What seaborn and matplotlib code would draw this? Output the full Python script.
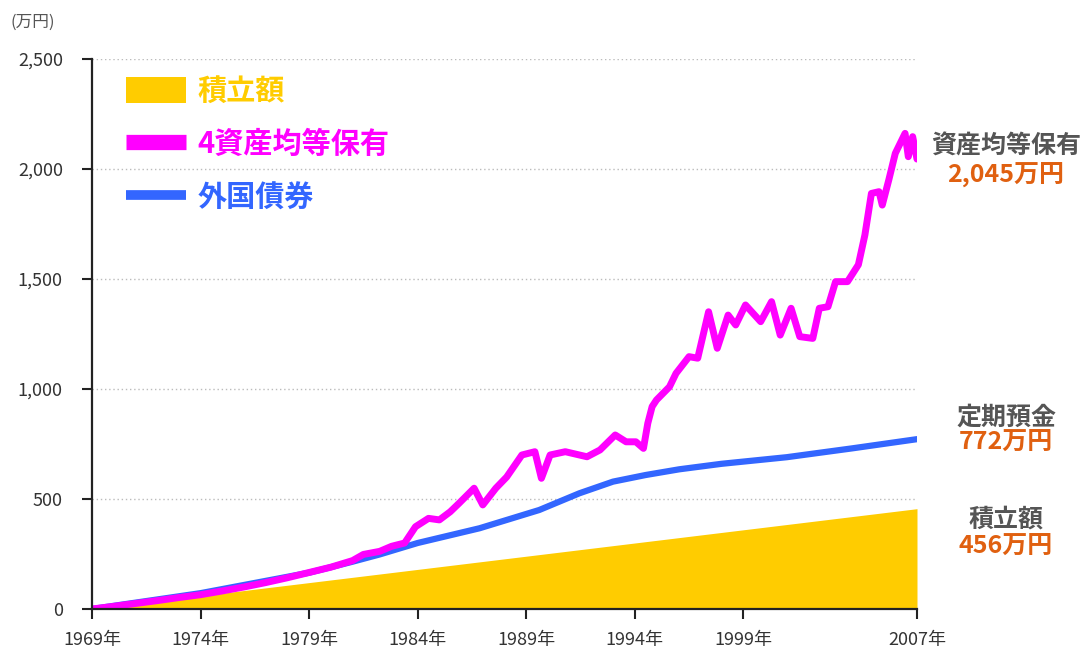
import matplotlib
matplotlib.use("Agg")
import matplotlib.pyplot as plt
from matplotlib.patches import Patch
from matplotlib.lines import Line2D
import seaborn as sns
import pandas as pd

# 4資産均等保有 (万円)
mix_years = [1969.0, 1970.0, 1971.0, 1972.0, 1973.0, 1974.0, 1975.0, 1976.0, 1977.0,
             1978.0, 1979.0, 1980.0, 1981.0, 1981.5, 1982.25, 1982.8, 1983.4, 1983.9,
             1984.5, 1985.0, 1985.5, 1985.9, 1986.6, 1987.0, 1987.6, 1988.1, 1988.8,
             1989.4, 1989.7, 1990.1, 1990.8, 1991.8, 1992.4, 1993.1, 1993.6, 1994.05,
             1994.4, 1994.6, 1994.8, 1995.0, 1995.6, 1995.9, 1996.5, 1996.9, 1997.4,
             1997.8, 1998.3, 1998.65, 1999.1, 1999.8, 2000.3, 2000.7, 2001.2, 2001.6,
             2002.2, 2002.5, 2002.9, 2003.25, 2003.8, 2004.3, 2004.6, 2004.9, 2005.25,
             2005.4, 2005.7, 2006.0, 2006.45, 2006.6, 2006.8, 2007.0]
mix_values = [0, 12, 25, 38, 52, 65, 82, 100, 120,
              142, 166, 190, 220, 248, 262, 285, 300, 374,
              412, 405, 442, 480, 549, 473, 549, 600, 700,
              715, 594, 700, 715, 692, 723, 791, 760, 760,
              730, 844, 920, 950, 1010, 1071, 1147, 1140, 1351,
              1185, 1336, 1291, 1382, 1306, 1397, 1245, 1367, 1238,
              1230, 1367, 1374, 1488, 1488, 1565, 1700, 1889, 1897,
              1836, 1950, 2071, 2162, 2056, 2147, 2045]

# 外国債券
bond_years = [1969, 1974, 1979, 1981, 1982.25, 1984, 1986.85, 1989.6, 1991.45,
              1993.0, 1994.5, 1996.05, 1998, 2001, 2004, 2007]
bond_values = [0, 72, 165, 215, 248, 300, 367, 450, 526,
               579, 609, 635, 660, 690, 730, 772]

# 積立額
save_years = [1969, 2007]
save_values = [0, 456]

tick_years = [1969, 1974, 1979, 1984, 1989, 1994, 1999, 2007]
y_ticks = [0, 500, 1000, 1500, 2000, 2500]

legend_labels = ["積立額", "4資産均等保有", "外国債券"]
end_titles = ["資産均等保有", "定期預金", "積立額"]
end_values = ["2,045万円", "772万円", "456万円"]

YELLOW = "#FFCC00"
MAGENTA = "#FF00FF"
BLUE = "#3366FF"
ORANGE = "#E06010"
GRAY = "#555555"

sns.set_theme(style="ticks")
plt.rcParams["font.family"] = ["Noto Sans CJK JP", "DejaVu Sans"]

mix = pd.DataFrame({"year": mix_years, "value": mix_values})
bond = pd.DataFrame({"year": bond_years, "value": bond_values})

fig = plt.figure(figsize=(10.87, 6.52), dpi=100)
ax = fig.add_axes([92 / 1087, 1 - 609 / 652, (917 - 92) / 1087, (609 - 59) / 652])

ax.fill_between(save_years, save_values, 0, color=YELLOW, lw=0, zorder=2)
sns.lineplot(data=bond, x="year", y="value", color=BLUE, lw=4.5, ax=ax, zorder=3)
sns.lineplot(data=mix, x="year", y="value", color=MAGENTA, lw=5, ax=ax, zorder=4)

ax.set_xlim(1969, 2007)
ax.set_ylim(0, 2500)
ax.set_xticks(tick_years)
ax.set_xticklabels([f"{y}年" for y in tick_years])
ax.set_yticks(y_ticks)
ax.set_yticklabels([f"{v:,}" for v in y_ticks])
ax.set_xlabel("")
ax.set_ylabel("")
ax.tick_params(axis="both", direction="out", length=7, width=1.5, colors="#222222",
               labelsize=13, labelcolor="#333333")
ax.tick_params(axis="x", pad=9)
ax.tick_params(axis="y", pad=14)

ax.yaxis.grid(True, linestyle=(0, (1, 2)), color="#bbbbbb", lw=1)
ax.set_axisbelow(True)
sns.despine(ax=ax)
for s in ["left", "bottom"]:
    ax.spines[s].set_linewidth(1.6)
    ax.spines[s].set_color("#222222")
    ax.spines[s].set_zorder(5)

fig.text(10 / 1087, 1 - 22 / 652, "(万円)", fontsize=12, color="#555555", va="center")

handles = [Patch(facecolor=YELLOW, edgecolor="none"),
           Line2D([], [], color=MAGENTA, lw=11, solid_capstyle="butt"),
           Line2D([], [], color=BLUE, lw=7, solid_capstyle="butt")]
leg = ax.legend(handles, legend_labels, loc="upper left",
                bbox_to_anchor=(126 / 1087, 1 - 76 / 652), bbox_transform=fig.transFigure,
                frameon=False, borderpad=0, borderaxespad=0, handlelength=2.05,
                handleheight=0.95, handletextpad=0.4, labelspacing=0.8,
                labelcolor=[YELLOW, MAGENTA, BLUE],
                prop={"weight": "bold", "size": 21})

title_y = [147, 418, 520]
value_y = [175, 443, 547]
for t, v, ty, vy in zip(end_titles, end_values, title_y, value_y):
    fig.text(1006 / 1087, 1 - ty / 652, t, ha="center", va="center",
             fontsize=18, fontweight="bold", color=GRAY)
    fig.text(1006 / 1087, 1 - vy / 652, v, ha="center", va="center",
             fontsize=18, fontweight="bold", color=ORANGE)

fig.savefig("out.png", dpi=100)
